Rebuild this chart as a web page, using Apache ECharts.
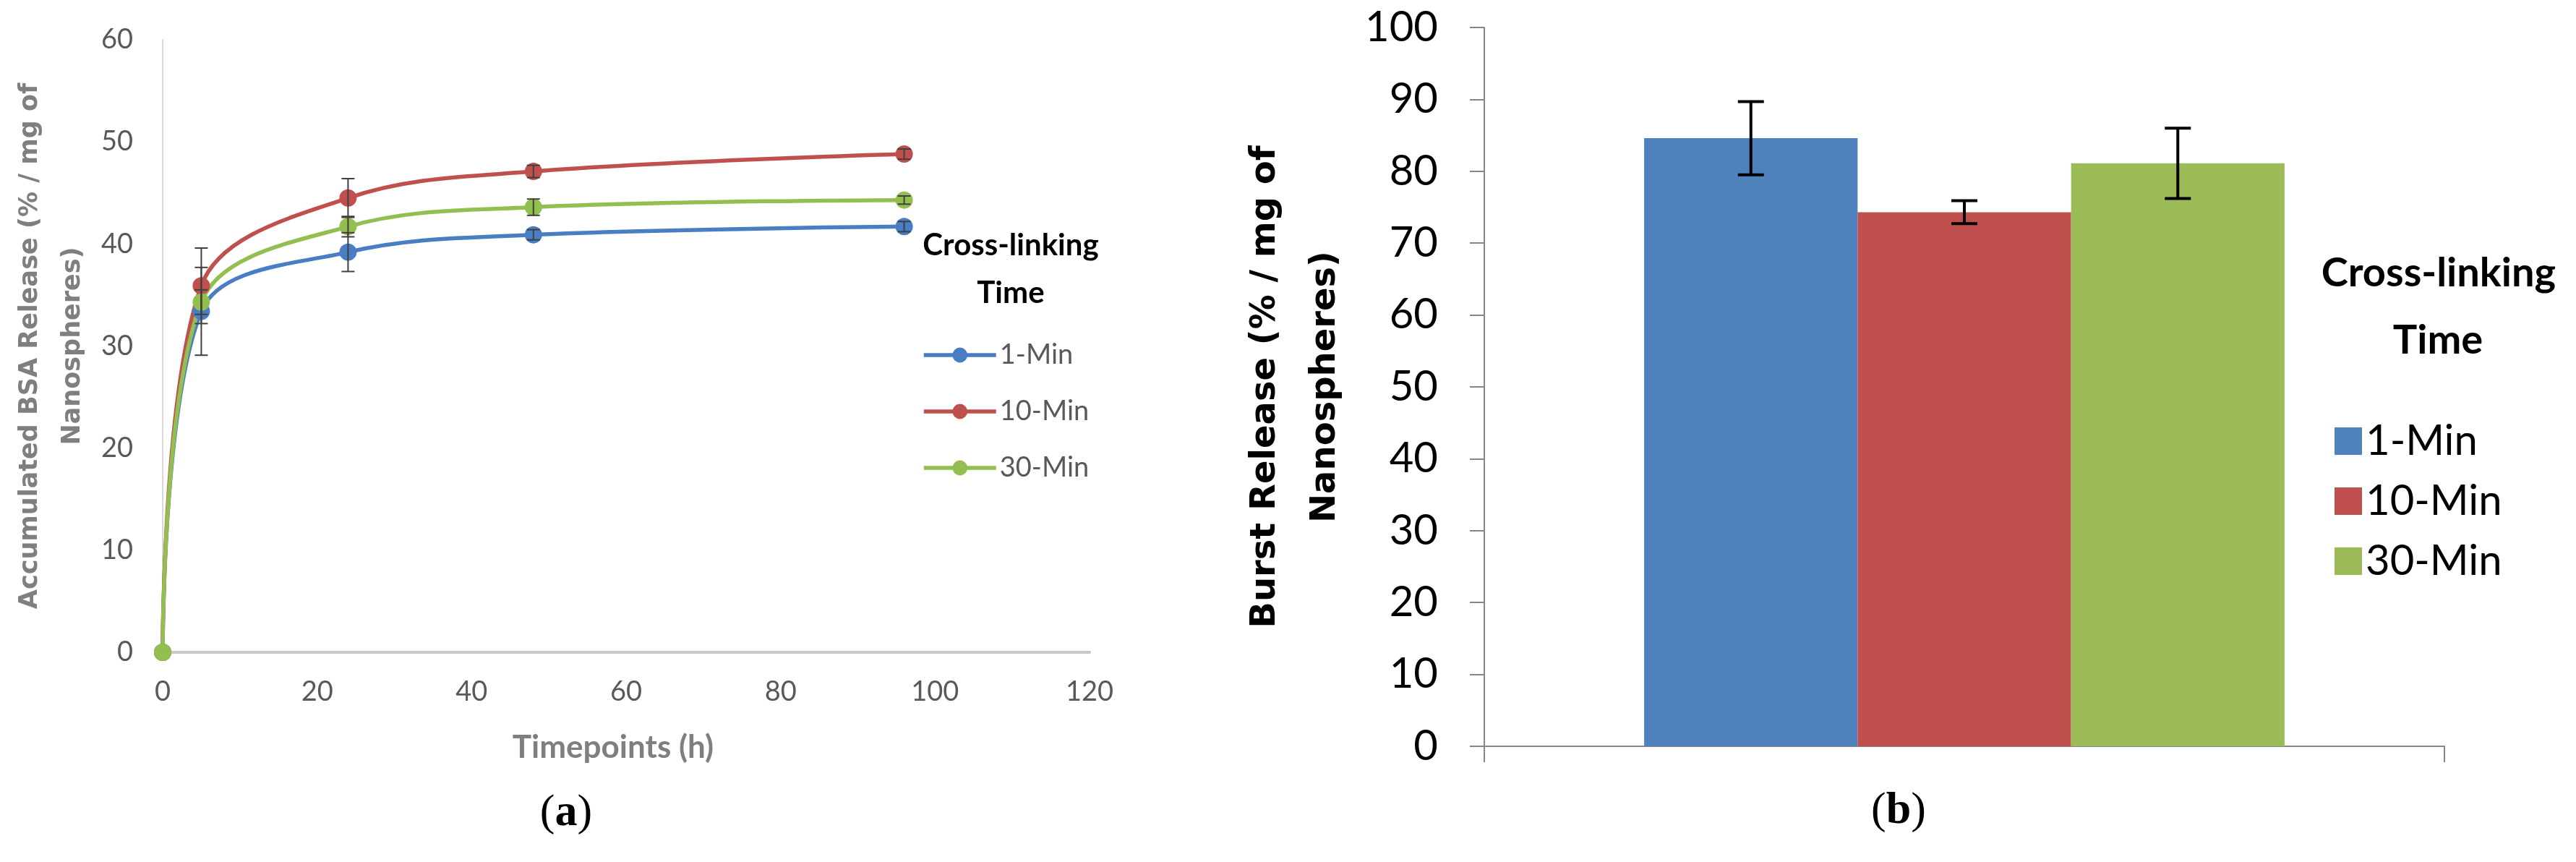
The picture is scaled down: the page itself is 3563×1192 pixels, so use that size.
<!DOCTYPE html>
<html>
<head>
<meta charset="utf-8">
<title>BSA release</title>
<script src="https://cdn.jsdelivr.net/npm/echarts@6/dist/echarts.min.js"></script>
<style>
html, body { margin: 0; padding: 0; background: #fff; }
#main { width: 3563px; height: 1192px; }
</style>
</head>
<body>
<div id="main"></div>
<script>
// (a) accumulated release, x = hours
var timepoints = [0, 5, 24, 48, 96];
var seriesNames = ['1-Min', '10-Min', '30-Min'];
var release1 = [0, 33.4, 39.2, 40.9, 41.7];
var release10 = [0, 35.9, 44.5, 47.1, 48.8];
var release30 = [0, 34.3, 41.7, 43.6, 44.3];
var err1 = [0, 4.3, 1.9, 0.5, 0.5];
var err10 = [0, 3.7, 1.9, 0.6, 0.5];
var err30 = [0, 1.2, 1.0, 0.8, 0.4];
var xTicks = [0, 120, 20];   // min, max, step
var yTicksA = [0, 60, 10];

// (b) burst release
var burst = [84.6, 74.3, 81.1];
var burstErr = [5.1, 1.6, 4.9];
var yTicksB = [0, 100, 10];

var lineColors = ['#4a7ec4', '#c0504d', '#92bf4f'];
var barColors = ['#4f81bd', '#c0504d', '#9bbb59'];

var myChart = echarts.init(document.getElementById('main'), null, {renderer: 'canvas'});

// error bar drawn through the axes
function errorBar(capHalf, lw, color, shiftFrac) {
    return function (params, api) {
        var v = api.value(1), e = api.value(2);
        var hi = api.coord([api.value(0), v + e]);
        var lo = api.coord([api.value(0), v - e]);
        var dx = 0;
        if (shiftFrac) {
            dx = api.value(3) * api.size([1, 0])[0] * shiftFrac;
        }
        var x = hi[0] + dx;
        var st = {stroke: color, lineWidth: lw};
        return {
            type: 'group',
            children: [
                {type: 'line', shape: {x1: x, y1: hi[1], x2: x, y2: lo[1]}, style: st},
                {type: 'line', shape: {x1: x - capHalf, y1: hi[1], x2: x + capHalf, y2: hi[1]}, style: st},
                {type: 'line', shape: {x1: x - capHalf, y1: lo[1], x2: x + capHalf, y2: lo[1]}, style: st}
            ]
        };
    };
}

var lineData = [release1, release10, release30];
var errData = [err1, err10, err30];
var series = [];

// lines of (a)
for (var i = 0; i < 3; i++) {
    var pts = [];
    for (var k = 0; k < timepoints.length; k++) {
        pts.push([timepoints[k], lineData[i][k]]);
    }
    series.push({
        name: seriesNames[i], type: 'line', xAxisIndex: 0, yAxisIndex: 0,
        data: pts, smooth: 0.35, symbol: 'circle', symbolSize: 24,
        lineStyle: {width: 5.5, color: lineColors[i]},
        itemStyle: {color: lineColors[i]}
    });
}
// error bars of (a)
for (var i = 0; i < 3; i++) {
    var eb = [];
    for (var k = 0; k < timepoints.length; k++) {
        if (errData[i][k] > 0) eb.push([timepoints[k], lineData[i][k], errData[i][k]]);
    }
    series.push({
        type: 'custom', xAxisIndex: 0, yAxisIndex: 0, z: 5,
        encode: {x: 0, y: 1},
        renderItem: errorBar(9, 2, '#404040', 0),
        data: eb
    });
}
// bars of (b)
var barNames = [];
for (var i = 0; i < 3; i++) {
    barNames.push('b' + seriesNames[i]);
    series.push({
        name: 'b' + seriesNames[i], type: 'bar', xAxisIndex: 1, yAxisIndex: 1,
        data: [burst[i]], barGap: '0%', barCategoryGap: '33.3%',
        itemStyle: {color: barColors[i]}
    });
}
// error bars of (b)
var beb = [];
for (var i = 0; i < 3; i++) {
    beb.push([0, burst[i], burstErr[i], i - 1]);
}
series.push({
    type: 'custom', xAxisIndex: 1, yAxisIndex: 1, z: 5,
    encode: {x: 0, y: 1},
    renderItem: errorBar(18, 4, '#000', (1 - 0.333) / 3),
    data: beb
});

var option = {
    animation: false,
    backgroundColor: '#fff',
    grid: [
        {left: 225, right: 3563 - 1507, top: 55, bottom: 1192 - 902},
        {left: 2053, right: 3563 - 3381, top: 38, bottom: 1192 - 1032}
    ],
    xAxis: [
        {
            type: 'value', gridIndex: 0, min: xTicks[0], max: xTicks[1], interval: xTicks[2],
            axisLine: {show: true, lineStyle: {color: '#c8c8c8', width: 4}},
            axisTick: {show: false},
            splitLine: {show: false},
            axisLabel: {fontFamily: 'Lato', fontSize: 38, color: '#595959', margin: 36}
        },
        {
            type: 'category', gridIndex: 1, data: [''],
            axisLine: {show: true, lineStyle: {color: '#868686', width: 2}},
            axisTick: {show: true, length: 22, lineStyle: {color: '#868686', width: 2}},
            axisLabel: {show: false}
        }
    ],
    yAxis: [
        {
            type: 'value', gridIndex: 0, min: yTicksA[0], max: yTicksA[1], interval: yTicksA[2],
            name: 'Accumulated BSA Release (% / mg of\nNanospheres)',
            nameLocation: 'middle', nameRotate: 90, nameGap: 95,
            nameTextStyle: {fontFamily: 'DejaVu Sans', fontWeight: 'bold', fontSize: 35, lineHeight: 59, color: '#7f7f7f'},
            axisLine: {show: true, lineStyle: {color: '#d9d9d9', width: 2}},
            axisTick: {show: false},
            splitLine: {show: false},
            axisLabel: {fontFamily: 'Lato', fontSize: 38, color: '#595959', margin: 41}
        },
        {
            type: 'value', gridIndex: 1, min: yTicksB[0], max: yTicksB[1], interval: yTicksB[2],
            name: 'Burst Release (% / mg of\nNanospheres)',
            nameLocation: 'middle', nameRotate: 90, nameGap: 178,
            nameTextStyle: {fontFamily: 'DejaVu Sans', fontWeight: 'bold', fontSize: 48, lineHeight: 83, color: '#000'},
            axisLine: {show: true, lineStyle: {color: '#868686', width: 2}},
            axisTick: {show: true, length: 20, lineStyle: {color: '#868686', width: 2}},
            splitLine: {show: false},
            axisLabel: {fontFamily: 'Lato', fontSize: 58, color: '#000', margin: 64}
        }
    ],
    legend: [
        {
            data: seriesNames, orient: 'vertical', left: 1270, top: 467,
            itemWidth: 100, itemHeight: 26, itemGap: 40,
            lineStyle: {width: 5.5},
            textStyle: {fontFamily: 'Lato', fontSize: 38, lineHeight: 38, color: '#595959'}
        },
        {
            data: barNames, orient: 'vertical', left: 3224, top: 576,
            icon: 'rect', itemWidth: 38, itemHeight: 38, itemGap: 25,
            formatter: function (name) { return name.substring(1); },
            textStyle: {fontFamily: 'Lato', fontSize: 58, lineHeight: 58, color: '#000'}
        }
    ],
    graphic: [
        {type: 'text', x: 1398, y: 339, style: {text: 'Cross-linking', font: 'bold 42px Lato', fill: '#000', align: 'center', verticalAlign: 'middle'}},
        {type: 'text', x: 1398, y: 405, style: {text: 'Time', font: 'bold 42px Lato', fill: '#000', align: 'center', verticalAlign: 'middle'}},
        {type: 'text', x: 3373, y: 378, style: {text: 'Cross-linking', font: 'bold 56px Lato', fill: '#000', align: 'center', verticalAlign: 'middle'}},
        {type: 'text', x: 3372, y: 471, style: {text: 'Time', font: 'bold 56px Lato', fill: '#000', align: 'center', verticalAlign: 'middle'}},
        // x axis title of (a), placed under the plotted range
        {type: 'text', x: 848, y: 1034, style: {text: 'Timepoints (h)', font: 'bold 44px Lato', fill: '#7f7f7f', align: 'center', verticalAlign: 'middle'}},
        {type: 'text', x: 783, y: 1125, style: {
            text: '{p|(}{b|a}{p|)}', align: 'center', verticalAlign: 'middle',
            rich: {p: {fontFamily: 'Liberation Serif', fontSize: 62, fill: '#000'}, b: {fontFamily: 'Liberation Serif', fontWeight: 'bold', fontSize: 62, fill: '#000'}}
        }},
        {type: 'text', x: 2626, y: 1122, style: {
            text: '{p|(}{b|b}{p|)}', align: 'center', verticalAlign: 'middle',
            rich: {p: {fontFamily: 'Liberation Serif', fontSize: 62, fill: '#000'}, b: {fontFamily: 'Liberation Serif', fontWeight: 'bold', fontSize: 62, fill: '#000'}}
        }}
    ],
    series: series
};
myChart.setOption(option);
</script>
</body>
</html>
